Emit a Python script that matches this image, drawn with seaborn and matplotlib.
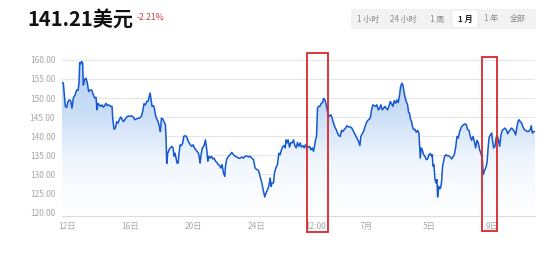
import numpy as np
import pandas as pd
import matplotlib
matplotlib.use("Agg")
import matplotlib.pyplot as plt
import seaborn as sns
from matplotlib.patches import FancyBboxPatch, Rectangle
import matplotlib.transforms as mtransforms

# ---- data: hours since 12 June 00:00, price in USD ----
hours = [
    -7.6, -5.6, -4.1, -2.5, -0.5, 1.5, 3.6, 5.6, 7.6, 9.7, 12.2, 14.7, 16.8, 18.3, 19.3, 20.8,
    22.4, 23.9, 24.9, 26.9, 29.0, 31.0, 33.0, 35.1, 37.6, 40.1, 42.2, 44.2, 45.7, 47.2, 49.3,
    51.3, 53.3, 55.4, 57.4, 59.4, 61.5, 63.5, 66.5, 68.6, 69.6, 71.6, 73.7, 75.7, 77.7, 79.8,
    81.8, 83.8, 85.9, 87.9, 90.9, 93.5, 96.0, 98.6, 101.1, 103.1, 105.2, 107.2, 110.2, 113.3,
    115.3, 117.3, 119.4, 121.4, 123.4, 125.0, 126.5, 128.0, 129.5, 131.6, 133.1, 134.6, 136.7,
    138.7, 140.7, 142.2, 143.8, 145.8, 147.8, 149.9, 150.9, 151.9, 153.4, 155.4, 157.5, 159.5,
    161.5, 163.1, 164.6, 166.1, 167.6, 169.2, 170.7, 172.2, 174.2, 176.3, 177.8, 179.8, 181.9,
    183.9, 185.9, 188.0, 190.0, 192.0, 194.1, 196.1, 198.1, 200.2, 201.7, 202.7,
    204.2, 206.2, 208.8, 210.8, 212.9, 214.4, 215.9, 217.9, 220.0, 222.0, 224.0, 226.1, 228.1,
    230.1, 232.2, 234.2, 236.2, 238.3, 240.3, 241.3, 243.3, 245.9, 248.4, 251.0, 253.5, 256.0,
    258.6, 261.1, 263.7, 266.2, 268.7, 271.3, 273.8, 276.4, 278.9, 281.4, 284.0, 286.5, 289.1,
    291.6, 294.1, 296.7, 299.2, 301.2, 303.3, 305.3, 307.3, 309.4, 310.9, 312.4, 314.5, 316.0,
    318.0, 320.5, 322.6, 324.6, 326.6, 328.7, 330.7, 332.2, 333.8, 335.3, 336.8, 338.8, 340.9,
    342.9, 344.9, 347.0, 349.0, 351.0, 353.1, 355.1, 357.1, 359.2, 361.2, 363.2, 365.3, 367.3,
    369.3, 371.3, 373.4, 375.4, 376.9, 378.5, 380.0, 381.5, 383.0, 385.1, 387.1, 389.1, 390.7,
    392.7, 394.2, 395.7, 397.8, 399.8, 401.8, 403.9, 405.9, 407.9, 410.0, 412.0, 414.0, 416.1,
    418.1, 420.1, 422.1, 424.2, 426.2, 428.8, 431.3, 433.8, 436.4, 438.9, 441.5, 444.0, 446.0,
    447.5, 449.6, 451.6, 454.2, 456.7, 459.2, 461.8, 463.8, 465.8, 467.9,
    469.9, 471.9, 474.0, 476.0, 478.0, 480.1, 482.1, 484.1, 486.2, 488.2, 490.2, 492.3, 494.3,
    496.3, 498.3, 500.4, 502.4, 504.4, 506.5, 508.0, 510.0, 511.6, 513.1, 514.6, 516.6, 518.7,
    520.2, 521.7, 523.2, 524.8, 526.3, 527.8, 529.8, 531.9, 533.9, 535.9, 537.0, 538.0, 539.5,
    541.0, 543.1, 545.1, 547.1, 549.1, 551.2, 553.2, 555.2, 556.3, 557.3, 558.8, 560.3, 561.8,
    563.4, 564.4, 565.9, 567.4, 569.0, 570.5, 572.0, 573.5, 575.1, 577.1, 579.1, 581.2, 583.7,
    585.7, 587.8, 589.8, 591.8, 593.9, 595.9, 597.9, 600.0, 602.0, 604.0, 606.1, 608.1, 610.1,
    612.2, 614.2, 616.2, 618.3, 620.3, 622.3, 624.4, 626.4, 628.4, 630.4, 632.5, 634.0, 635.5,
    637.6, 639.6, 641.1, 642.6, 644.7, 646.7, 648.2, 649.7, 651.8, 653.3, 654.8, 656.8, 658.9,
    660.9, 662.9, 665.0, 667.0, 669.0, 671.1, 673.1, 675.1, 677.2, 679.2, 681.2, 683.3, 684.8,
    686.8, 688.3, 690.3, 692.4, 694.4, 696.4, 698.5, 700.5, 703.0, 705.5, 707.0, 708.6, 710.6,
    712.7,
]
price = [
    154.1, 153.9, 150.8, 147.8, 147.5, 149.1, 149.5, 149.3, 147.3, 150.0, 150.8, 152.1, 152.0,
    153.9, 159.3, 159.0, 159.6, 159.1, 153.4, 154.9, 155.2, 153.9, 151.7, 152.1, 152.1, 150.8,
    150.0, 150.2, 146.9, 148.6, 148.2, 147.8, 148.2, 147.6, 148.0, 148.6, 148.0, 148.2, 147.8,
    147.8, 144.7, 141.8, 142.1, 143.8, 143.4, 144.3, 145.0, 144.5, 143.8, 144.3, 145.0, 145.3,
    145.2, 145.3, 145.0, 144.3, 144.5, 144.6, 144.7, 145.2, 146.5, 148.5, 148.2, 149.1, 149.1,
    150.2, 151.3, 149.7, 147.8, 148.0, 147.3, 145.6, 144.5, 143.8, 142.5, 141.2, 144.7, 144.5,
    143.8, 143.0, 139.0, 132.8, 135.5, 136.4, 136.9, 137.3, 136.9, 134.7, 135.5, 134.2, 132.9,
    132.9, 135.5, 137.7, 137.5, 138.2, 139.9, 140.1, 139.9, 139.0, 138.2, 137.7, 137.3, 137.7,
    136.9, 136.4, 136.0, 135.5, 134.2, 132.9,
    135.1, 136.9, 137.5, 139.0, 136.4, 133.4, 134.7, 134.2, 134.7, 134.0, 134.2, 133.4, 133.1,
    132.5, 132.3, 131.6, 132.5, 130.3, 129.4, 132.1, 134.0, 134.7, 135.1, 135.7, 135.1, 134.7,
    134.5, 134.2, 134.2, 134.5, 134.2, 134.7, 134.8, 134.5, 134.7, 134.2, 133.8, 131.6, 131.2,
    131.0, 129.4, 127.7, 125.5, 124.0, 125.1, 125.9, 126.8, 129.0, 126.8, 127.7, 127.7, 130.3,
    131.6, 132.5, 135.5, 135.1, 136.4, 137.3, 137.5, 136.9, 139.0, 138.2, 139.0, 137.1, 138.3,
    138.2, 139.0, 137.5, 136.9, 138.3, 137.3, 138.2, 137.1, 137.5, 136.9, 137.7, 136.9, 137.1,
    137.3, 136.4, 136.9, 136.0, 137.3, 139.0, 139.9, 147.3, 147.8, 147.8, 148.6, 148.8, 149.9,
    149.5, 148.6, 147.3, 145.6, 145.2, 145.6, 144.7, 143.4, 142.4, 141.7, 140.8, 140.1, 139.9,
    141.5, 141.2, 141.7, 142.1, 142.7, 142.4, 142.4, 142.1, 141.2, 140.3, 139.5, 138.6, 137.5,
    139.9, 140.6, 141.2, 142.7, 143.8, 144.3, 144.7, 146.9, 148.2, 148.0,
    147.8, 148.2, 146.9, 147.3, 148.2, 146.9, 147.3, 147.8, 147.3, 146.9, 147.8, 149.1, 148.5,
    147.8, 149.3, 148.6, 149.5, 148.8, 150.8, 153.0, 153.9, 153.4, 151.7, 150.4, 149.1, 148.2,
    146.2, 146.0, 144.3, 143.8, 142.4, 141.7, 141.8, 141.0, 141.5, 140.8, 137.3, 134.2, 136.9,
    136.4, 135.1, 134.7, 133.8, 134.0, 135.1, 135.4, 134.7, 135.1, 132.1, 132.5, 128.7, 127.7,
    128.6, 124.0, 126.8, 126.1, 126.4, 128.1, 132.1, 133.4, 134.7, 135.1, 134.8, 134.8, 134.5,
    134.0, 134.5, 135.1, 136.9, 139.9, 139.5, 141.2, 142.1, 142.7, 143.0, 143.2, 143.0, 141.7,
    141.5, 139.9, 138.9, 139.9, 138.6, 136.9, 138.9, 138.2, 136.4, 135.5, 133.8, 129.9, 130.8,
    131.6, 132.9, 136.4, 139.5, 140.3, 140.8, 138.6, 136.9, 137.3, 139.4, 140.1, 139.2, 137.3,
    140.3, 141.5, 141.8, 142.1, 141.7, 140.6, 141.2, 141.7, 142.1, 141.7, 141.2, 140.3, 142.1,
    143.8, 144.3, 143.8, 143.4, 142.4, 141.7, 141.5, 141.2, 141.2, 141.7, 142.7, 140.8, 141.2,
    141.2,
]
tick_hours = [0, 96, 192, 288, 378, 456, 552, 648]
tick_labels = ["12日", "16日", "20日", "24日", "12:00", "7月", "5日", "9日"]
y_ticks = [120, 125, 130, 135, 140, 145, 150, 155, 160]
ranges = ["1 小时", "24 小时", "1 周", "1 月", "1 年", "全部"]
active_range = "1 月"
title_price = "141.21美元"
change = "-2.21%"
highlight_spans = [(365.7, 397.7), (631.3, 654.8)]

df = pd.DataFrame({"hours": hours, "price": price})

sns.set_theme(style="white")
plt.rcParams["font.family"] = ["Noto Sans CJK SC", "DejaVu Sans"]

W, H = 552, 263
fig = plt.figure(figsize=(W / 100, H / 100), dpi=100)
fig.patch.set_facecolor("white")

ax_l, ax_r, ax_t, ax_b = 62, 535, 55, 216
ax = fig.add_axes([ax_l / W, 1 - ax_b / H, (ax_r - ax_l) / W, (ax_b - ax_t) / H])
ax.set_facecolor("white")

ymin, ymax = 119.0, 161.3
ax.set_ylim(ymin, ymax)
ax.set_xlim(min(hours), max(hours))

# grid
for yv in y_ticks:
    ax.axhline(yv, color="#e6e6e6", lw=0.8, zorder=0)

# gradient fill under the line
poly = ax.fill_between(df["hours"], df["price"], ymin, color="none", lw=0)
grad = np.linspace(0, 1, 256).reshape(-1, 1)
from matplotlib.colors import LinearSegmentedColormap
cmap = LinearSegmentedColormap.from_list("g", ["#ffffff", "#f2f7fe", "#c9ddf7", "#b3cff3"])
im = ax.imshow(grad, aspect="auto", cmap=cmap, origin="lower",
               extent=[min(hours), max(hours), ymin, 160.5], zorder=1)
path = poly.get_paths()[0]
im.set_clip_path(path, transform=ax.transData)
ax.set_xlim(min(hours), max(hours))
ax.set_ylim(ymin, ymax)

sns.lineplot(data=df, x="hours", y="price", ax=ax, color="#1558d0", lw=1.1, zorder=3)

ax.set_xlabel("")
ax.set_ylabel("")
ax.set_xticks(tick_hours)
ax.set_xticklabels(tick_labels)
ax.set_yticks(y_ticks)
ax.set_yticklabels([f"{v:.2f}" for v in y_ticks])
ax.tick_params(axis="both", length=0, labelsize=6, colors="#a8a8a8")
ax.tick_params(axis="x", pad=4)
ax.tick_params(axis="y", pad=5)
for s in ["top", "right", "left"]:
    ax.spines[s].set_visible(False)
ax.spines["bottom"].set_color("#dcdcdc")
ax.spines["bottom"].set_linewidth(0.8)

# red highlight boxes
trans = mtransforms.blended_transform_factory(ax.transData, ax.transAxes)
box_y = [(1.011, -0.097), (0.986, -0.093)]
for (x0, x1), (yt, yb) in zip(highlight_spans, box_y):
    r = Rectangle((x0, yb), x1 - x0, yt - yb, transform=trans, fill=False,
                  edgecolor="#d9282b", lw=1.3, clip_on=False, zorder=5)
    ax.add_patch(r)

# title texts
fig.text(27 / W, 1 - 19 / H, title_price, fontsize=14.5, fontweight="bold",
         color="#111111", va="center", ha="left")
fig.text(137 / W, 1 - 18 / H, change, fontsize=6.2, color="#d23c46", va="center", ha="left")

# range selector
bg = FancyBboxPatch((351 / W, 1 - 29 / H), (536 - 351) / W, 20 / H,
                    boxstyle="round,pad=0,rounding_size=0.004", transform=fig.transFigure,
                    facecolor="#f2f2f2", edgecolor="none")
fig.patches.append(bg)
act = FancyBboxPatch((452 / W, 1 - 28 / H), 26 / W, 18 / H,
                     boxstyle="round,pad=0,rounding_size=0.004", transform=fig.transFigure,
                     facecolor="white", edgecolor="#e4e4e4", lw=0.5)
fig.patches.append(act)
centers = [368, 403, 437, 465, 491, 518]
for lab, cx in zip(ranges, centers):
    is_act = lab == active_range
    fig.text(cx / W, 1 - 19 / H, lab, fontsize=5.8, ha="center", va="center",
             color="#222222" if is_act else "#8a8a8a",
             fontweight="bold" if is_act else "normal")

fig.savefig("out.png", dpi=100, facecolor="white")
